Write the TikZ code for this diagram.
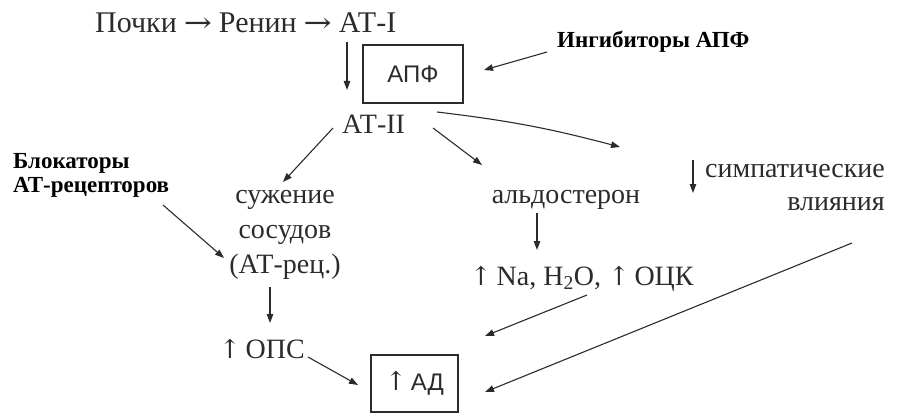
\documentclass[tikz,border=0pt]{standalone}
\usepackage{fontspec}
\setmainfont{Liberation Serif}
\newfontfamily\sansf{Liberation Sans}
\newfontfamily\arrf{DejaVu Serif}
\newcommand{\rarr}{\hspace{7pt}{\arrf\fontsize{28}{30}\selectfont\scalebox{1.2}[1]{→}}\hspace{7pt}}
\newcommand{\uarr}{{\arrf\fontsize{26}{30}\selectfont ↑}}
\usetikzlibrary{arrows.meta}
\definecolor{ink}{HTML}{2B2B2B}
\begin{document}
\begin{tikzpicture}[x=1pt,y=-1pt,
  txt/.style={inner sep=0pt, text=ink, font=\fontsize{28}{34}\selectfont},
  lbl/.style={inner sep=0pt, text=black, font=\fontsize{23}{27}\selectfont\bfseries},
  boxed/.style={draw=ink, line width=1.4pt, inner sep=0pt, text=ink, font=\sansf\fontsize{24}{28}\selectfont},
  arr/.style={draw=ink, line width=1.1pt, -{Triangle[length=9pt,width=6.5pt]}}]
\useasboundingbox (0,0) rectangle (899,417);
% texts
\node[txt, anchor=base west, font=\fontsize{30}{34}\selectfont] (top) at (95,33) {Почки\rarr Ренин\rarr АТ-I};
\node[boxed, minimum width=100pt, minimum height=58pt] (apf) at (413,74) {АПФ};
\node[lbl, anchor=base west] (inh) at (557,48) {Ингибиторы АПФ};
\node[txt, anchor=base west] (at2) at (342,133) {АТ-II};
\node[lbl, anchor=base west] (blk1) at (13,168) {Блокаторы};
\node[lbl, anchor=base west] (blk2) at (13,192) {АТ-рецепторов};
\node[txt, anchor=base] (suz1) at (285,203) {сужение};
\node[txt, anchor=base] (suz2) at (285,238) {сосудов};
\node[txt, anchor=base] (suz3) at (285,273) {(АТ-рец.)};
\node[txt, anchor=base] (ald) at (566,203) {альдостерон};
\node[txt, anchor=base east] (sym1) at (885,177) {симпатические};
\node[txt, anchor=base east] (sym2) at (885,210) {влияния};
\node[txt, anchor=base west] (na) at (470,285) {\uarr\,Na, H\textsubscript{2}O, \uarr\,ОЦК};
\node[txt, anchor=base west] (ops) at (219,358) {\uarr\,ОПС};
\node[boxed, minimum width=87pt, minimum height=57pt] (ad) at (414.5,383.5) {\uarr\,АД};
% connector end points
\coordinate (a1s) at (347,42);  \coordinate (a1e) at (347,90);
\coordinate (a2s) at (547,52);  \coordinate (a2e) at (484,70);
\coordinate (a3s) at (333,128); \coordinate (a3e) at (283,182);
\coordinate (a4s) at (433,128); \coordinate (a4e) at (482,165);
\coordinate (a5s) at (437,112); \coordinate (a5e) at (620,147);
\coordinate (a6s) at (163,205); \coordinate (a6e) at (224,258);
\coordinate (a7s) at (537,213); \coordinate (a7e) at (537,250);
\coordinate (a8s) at (693,160); \coordinate (a8e) at (693,193);
\coordinate (a9s) at (587,295); \coordinate (a9e) at (485,336);
\coordinate (a10s) at (852,243); \coordinate (a10e) at (485,392);
\coordinate (a11s) at (270,287); \coordinate (a11e) at (270,323);
\coordinate (a12s) at (308,357); \coordinate (a12e) at (358,385);
% connectors
\draw[arr] (a1s) -- (a1e);
\draw[arr] (a2s) -- (a2e);
\draw[arr] (a3s) -- (a3e);
\draw[arr] (a4s) -- (a4e);
\draw[arr] (a5s) to[bend left=4] (a5e);
\draw[arr] (a6s) -- (a6e);
\draw[arr] (a7s) -- (a7e);
\draw[arr] (a8s) -- (a8e);
\draw[arr] (a9s) -- (a9e);
\draw[arr] (a10s) -- (a10e);
\draw[arr] (a11s) -- (a11e);
\draw[arr] (a12s) -- (a12e);
\end{tikzpicture}
\end{document}
